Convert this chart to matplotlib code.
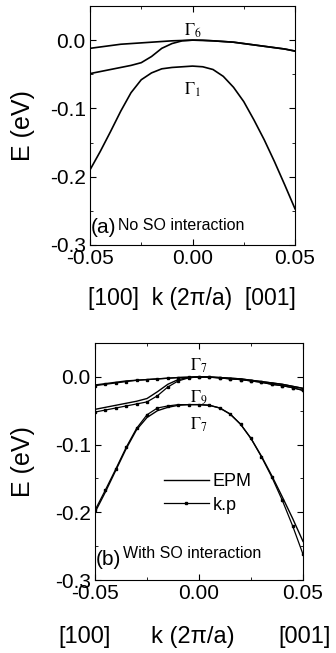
import matplotlib.pyplot as plt
import numpy as np

plt.rcParams['font.family'] = ['Liberation Sans', 'DejaVu Sans']
plt.rcParams['mathtext.fontset'] = 'stix'

k = np.round(np.arange(-0.05, 0.0501, 0.005), 4)

# panel (a): no spin-orbit
a_top = [-0.012, -0.010, -0.008, -0.006, -0.005, -0.004, -0.003, -0.002, -0.001, -0.0005, 0.0,
         -0.0003, -0.001, -0.002, -0.003, -0.005, -0.007, -0.009, -0.011, -0.013, -0.016]
a_mid = [-0.049, -0.046, -0.043, -0.040, -0.037, -0.033, -0.024, -0.012, -0.005, -0.001, 0.0,
         -0.0003, -0.001, -0.002, -0.003, -0.005, -0.007, -0.009, -0.011, -0.013, -0.016]
a_low = [-0.190, -0.163, -0.134, -0.104, -0.077, -0.058, -0.048, -0.042, -0.040, -0.039, -0.038,
         -0.039, -0.043, -0.053, -0.069, -0.090, -0.117, -0.146, -0.178, -0.212, -0.247]

# panel (b): with spin-orbit, EPM and k.p
b_top_epm = [-0.012, -0.010, -0.008, -0.006, -0.005, -0.004, -0.003, -0.002, -0.001, -0.0005, 0.0,
             -0.0003, -0.001, -0.002, -0.003, -0.005, -0.007, -0.009, -0.011, -0.014, -0.017]
b_top_kp = [-0.013, -0.011, -0.009, -0.007, -0.005, -0.004, -0.003, -0.002, -0.001, -0.0005, 0.0,
            -0.0005, -0.0015, -0.003, -0.004, -0.006, -0.008, -0.011, -0.013, -0.016, -0.020]
b_mid_epm = [-0.048, -0.045, -0.042, -0.039, -0.036, -0.032, -0.022, -0.011, -0.004, -0.001, 0.0,
             -0.0003, -0.001, -0.002, -0.003, -0.005, -0.007, -0.009, -0.011, -0.014, -0.017]
b_mid_kp = [-0.052, -0.049, -0.046, -0.043, -0.040, -0.037, -0.028, -0.015, -0.006, -0.0015, 0.0,
            -0.0005, -0.0015, -0.003, -0.004, -0.006, -0.008, -0.011, -0.013, -0.016, -0.020]
b_low_epm = [-0.200, -0.170, -0.138, -0.106, -0.078, -0.060, -0.050, -0.045, -0.042, -0.041, -0.041,
             -0.042, -0.046, -0.055, -0.070, -0.091, -0.117, -0.146, -0.177, -0.209, -0.243]
b_low_kp = [-0.197, -0.167, -0.136, -0.104, -0.076, -0.056, -0.046, -0.043, -0.041, -0.041, -0.041,
            -0.042, -0.046, -0.055, -0.070, -0.091, -0.118, -0.148, -0.182, -0.220, -0.262]

W, H = 336, 653
fig = plt.figure(figsize=(W / 100, H / 100), dpi=100)
ax1 = fig.add_axes([90 / W, 1 - 245 / H, 205 / W, 239 / H])
ax2 = fig.add_axes([95 / W, 1 - 580 / H, 208 / W, 237 / H])

ax1.plot(k, a_top, color='black', lw=1.2)
ax1.plot(k, a_mid, color='black', lw=1.2)
ax1.plot(k, a_low, color='black', lw=1.2)
ax1.text(0.0, 0.014, r'$\Gamma_6$', ha='center', va='center', fontsize=12)
ax1.text(0.0, -0.072, r'$\Gamma_1$', ha='center', va='center', fontsize=12)
ax1.text(-0.0495, -0.274, '(a)', fontsize=15, va='center')
ax1.text(-0.0365, -0.272, 'No SO interaction', fontsize=11.5, va='center')
fig.text(192 / W, 1 - 299 / H, '[100]  k (2\u03c0/a)  [001]', fontsize=16.5,
         ha='center', va='center')
ax1.yaxis.set_label_coords(-0.327, 0.41)

ax2.plot(k, b_top_epm, color='black', lw=1.0, label='EPM')
ax2.plot(k, b_top_kp, color='black', lw=0.9, marker='s', ms=2, label='k.p')
ax2.plot(k, b_mid_epm, color='black', lw=1.0)
ax2.plot(k, b_mid_kp, color='black', lw=0.9, marker='s', ms=2)
ax2.plot(k, b_low_epm, color='black', lw=1.0)
ax2.plot(k, b_low_kp, color='black', lw=0.9, marker='s', ms=2)
ax2.text(0.0, 0.017, r'$\Gamma_7$', ha='center', va='center', fontsize=12)
ax2.text(0.0, -0.031, r'$\Gamma_9$', ha='center', va='center', fontsize=12)
ax2.text(0.0, -0.071, r'$\Gamma_7$', ha='center', va='center', fontsize=12)
ax2.text(-0.0495, -0.270, '(b)', fontsize=15, va='center')
ax2.text(-0.0365, -0.261, 'With SO interaction', fontsize=11.5, va='center')
ax2.legend(loc='upper left', bbox_to_anchor=(0.33, 0.45), frameon=False, fontsize=13,
           handlelength=2.5, handletextpad=0.2, labelspacing=0.35, borderpad=0,
           borderaxespad=0)
fig.text(85 / W, 1 - 637 / H, '[100]', fontsize=17, ha='center', va='center')
fig.text(193 / W, 1 - 637 / H, 'k (2\u03c0/a)', fontsize=17, ha='center', va='center')
fig.text(305 / W, 1 - 637 / H, '[001]', fontsize=17, ha='center', va='center')
ax2.yaxis.set_label_coords(-0.346, 0.48)

for ax in (ax1, ax2):
    ax.set_xlim(-0.05, 0.05)
    ax.set_ylim(-0.3, 0.05)
    ax.set_xticks([-0.05, 0.0, 0.05])
    ax.set_xticks([-0.025, 0.025], minor=True)
    ax.set_xticklabels(['-0.05', '0.00', '0.05'])
    ax.set_yticks([0.0, -0.1, -0.2, -0.3])
    ax.set_yticks([0.05, -0.05, -0.15, -0.25], minor=True)
    ax.set_yticklabels(['0.0', '-0.1', '-0.2', '-0.3'])
    ax.tick_params(which='both', direction='in', top=True, right=True)
    ax.tick_params(which='major', labelsize=15, length=4, pad=3)
    ax.tick_params(which='minor', length=2)
    ax.set_ylabel('E (eV)', fontsize=18, va='center')

plt.savefig('out.png', dpi=100)
